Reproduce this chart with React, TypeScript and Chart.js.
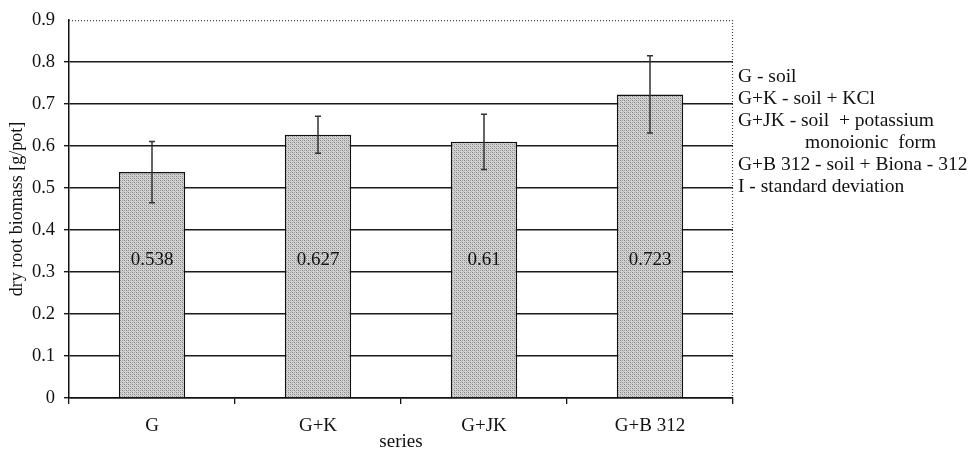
import { useEffect, useRef } from "react";
import { Chart, registerables } from "chart.js";

Chart.register(...registerables);

const categories = ["G", "G+K", "G+JK", "G+B 312"];
const meanValues = [0.538, 0.627, 0.61, 0.723];
const stdDeviation = [0.073, 0.044, 0.066, 0.092];
const yMin = 0;
const yMax = 0.9;
const yStep = 0.1;
const xTitle = "series";
const yTitle = "dry root biomass [g/pot]";
const legendLines = [
  "G - soil",
  "G+K - soil + KCl",
  "G+JK - soil  + potassium",
  "monoionic  form",
  "G+B 312 - soil + Biona - 312",
  "I - standard deviation",
];
const legendIndent = [0, 0, 0, 67, 0, 0];

const FONT = "'Liberation Serif', 'Times New Roman', serif";

function makePattern(): CanvasPattern | string {
  const c = document.createElement("canvas");
  c.width = 4;
  c.height = 4;
  const g = c.getContext("2d");
  if (!g) return "#bcbcbc";
  g.fillStyle = "#d4d4d4";
  g.fillRect(0, 0, 4, 4);
  g.fillStyle = "#858585";
  g.fillRect(0, 0, 1, 1);
  g.fillRect(2, 2, 1, 1);
  g.fillStyle = "#9e9e9e";
  g.fillRect(2, 0, 1, 1);
  g.fillRect(0, 2, 1, 1);
  g.fillStyle = "#bababa";
  g.fillRect(1, 1, 1, 1);
  g.fillRect(3, 3, 1, 1);
  const p = g.createPattern(c, "repeat");
  return p || "#bcbcbc";
}

const overlayPlugin = {
  id: "overlay",
  beforeDatasetsDraw(chart: any) {
    const { ctx, chartArea } = chart;
    ctx.save();
    ctx.strokeStyle = "#444";
    ctx.lineWidth = 1.2;
    ctx.setLineDash([1, 2]);
    ctx.beginPath();
    ctx.moveTo(chartArea.left, chartArea.top + 0.5);
    ctx.lineTo(chartArea.right, chartArea.top + 0.5);
    ctx.moveTo(chartArea.right - 0.5, chartArea.top);
    ctx.lineTo(chartArea.right - 0.5, chartArea.bottom);
    ctx.stroke();
    ctx.restore();
  },
  afterDatasetsDraw(chart: any) {
    const { ctx } = chart;
    const yScale = chart.scales.y;
    const meta = chart.getDatasetMeta(0);
    ctx.save();
    // error bars
    ctx.strokeStyle = "#333";
    ctx.lineWidth = 1.5;
    meta.data.forEach((bar: any, i: number) => {
      const x = bar.x;
      const yTop = yScale.getPixelForValue(meanValues[i] + stdDeviation[i]);
      const yBot = yScale.getPixelForValue(meanValues[i] - stdDeviation[i]);
      ctx.beginPath();
      ctx.moveTo(x, yTop);
      ctx.lineTo(x, yBot);
      ctx.moveTo(x - 3, yTop);
      ctx.lineTo(x + 3, yTop);
      ctx.moveTo(x - 3, yBot);
      ctx.lineTo(x + 3, yBot);
      ctx.stroke();
    });
    // value labels
    ctx.fillStyle = "#111";
    ctx.font = `19px ${FONT}`;
    ctx.textAlign = "center";
    ctx.textBaseline = "middle";
    const labelY = yScale.getPixelForValue(0.329);
    meta.data.forEach((bar: any, i: number) => {
      ctx.fillText(String(meanValues[i]), bar.x, labelY);
    });
    // legend text
    ctx.textAlign = "left";
    ctx.font = `19.5px ${FONT}`;
    legendLines.forEach((line, i) => {
      ctx.fillText(line, 738 + legendIndent[i], 77 + i * 22);
    });
    ctx.restore();
  },
};

export default function App() {
  const ref = useRef<HTMLCanvasElement | null>(null);

  useEffect(() => {
    document.body.style.margin = "0";
    const canvas = ref.current;
    if (!canvas) return;
    const pattern = makePattern();
    const chart = new Chart(canvas, {
      type: "bar",
      data: {
        labels: categories,
        datasets: [
          {
            data: meanValues,
            backgroundColor: pattern as any,
            borderColor: "#111",
            borderWidth: 1.5,
            barPercentage: 0.4,
            categoryPercentage: 1,
          },
        ],
      },
      options: {
        responsive: false,
        animation: false,
        layout: { padding: { top: 15, right: 238, left: 0, bottom: 0 } },
        plugins: {
          legend: { display: false },
          tooltip: { enabled: false },
        },
        scales: {
          x: {
            offset: true,
            grid: {
              display: true,
              drawOnChartArea: false,
              offset: true,
              tickLength: 6,
              color: "#111",
              lineWidth: 1.3,
            },
            border: { display: true, color: "#111", width: 1.5 },
            ticks: {
              color: "#111",
              padding: 11,
              font: { family: FONT, size: 19 },
            },
            title: {
              display: true,
              text: xTitle,
              color: "#111",
              font: { family: FONT, size: 19 },
              padding: { top: 0, bottom: 0 },
            },
            afterFit(scale: any) {
              scale.height = 55;
            },
          },
          y: {
            min: yMin,
            max: yMax,
            grid: {
              color: (c: any) =>
                c.tick && Math.abs(c.tick.value - yMax) < 1e-6 ? "rgba(0,0,0,0)" : "#1a1a1a",
              lineWidth: 1.4,
              tickLength: 5,
            },
            border: { display: true, color: "#111", width: 1.5 },
            ticks: {
              stepSize: yStep,
              color: "#111",
              padding: 9,
              font: { family: FONT, size: 18.5 },
            },
            title: {
              display: true,
              text: yTitle,
              color: "#111",
              font: { family: FONT, size: 18 },
              padding: { top: 6, bottom: 0 },
            },
            afterFit(scale: any) {
              scale.width = 69;
            },
          },
        },
      },
      plugins: [overlayPlugin],
    });
    return () => chart.destroy();
  }, []);

  return (
    <div style={{ width: 971, height: 453, background: "#fff" }}>
      <canvas ref={ref} width={971} height={453} style={{ display: "block" }} />
    </div>
  );
}
